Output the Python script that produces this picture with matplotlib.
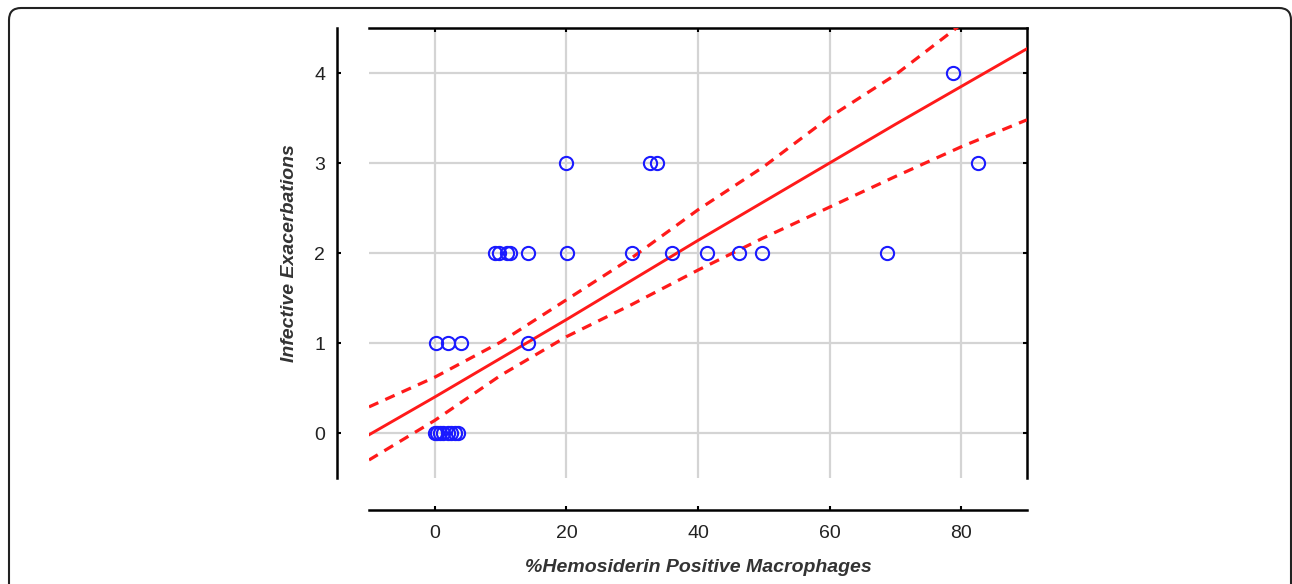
import matplotlib
matplotlib.use("Agg")
import matplotlib.pyplot as plt
from matplotlib.patches import FancyBboxPatch
from matplotlib.transforms import IdentityTransform
import numpy as np

plt.rcParams['font.family'] = ['Liberation Sans', 'DejaVu Sans']

# scatter values
pct_hemosiderin = [0.0, 0.4, 0.8, 1.3, 2.0, 2.5, 3.0, 3.5,
                   0.2, 2.0, 4.0, 14.2,
                   9.2, 9.7, 11.0, 11.5, 14.1, 20.1, 30.0, 36.0, 41.4, 46.3, 49.8, 68.7,
                   20.0, 32.7, 33.7, 82.6,
                   78.8]
exacerbations = [0, 0, 0, 0, 0, 0, 0, 0,
                 1, 1, 1, 1,
                 2, 2, 2, 2, 2, 2, 2, 2, 2, 2, 2, 2,
                 3, 3, 3, 3,
                 4]

# regression line and 95% confidence band
fit_x = [-10, 0, 10, 20, 30, 40, 50, 60, 70, 80, 90]
fit_y = [-0.02, 0.40, 0.83, 1.26, 1.70, 2.14, 2.57, 3.00, 3.43, 3.85, 4.27]
ci_upper = [0.29, 0.62, 1.01, 1.48, 1.95, 2.48, 2.96, 3.51, 3.98, 4.54, 5.08]
ci_lower = [-0.30, 0.14, 0.64, 1.07, 1.43, 1.81, 2.17, 2.51, 2.85, 3.18, 3.48]

x_ticks = [0, 20, 40, 60, 80]
y_ticks = [0, 1, 2, 3, 4]

W, H = 1292, 584
fig = plt.figure(figsize=(W / 100, H / 100), dpi=100)
ax = fig.add_axes([369 / W, (H - 478) / H, 658 / W, 450 / H])

# frame around the whole figure
frame = FancyBboxPatch((9, -30), 1282, H - 8 + 30,
                       boxstyle='round,pad=0,rounding_size=12',
                       transform=IdentityTransform(), fill=False,
                       edgecolor='#222222', linewidth=1.5)
fig.add_artist(frame)

ax.grid(True, color='#d4d4d4', linewidth=1.6)
ax.set_axisbelow(True)

red = '#ff1a1a'
ax.plot(fit_x, fit_y, color=red, linewidth=2.1, zorder=3)
ax.plot(fit_x, ci_upper, color=red, linewidth=2.3,
        linestyle=(0, (3.2, 2.4)), zorder=3)
ax.plot(fit_x, ci_lower, color=red, linewidth=2.3,
        linestyle=(0, (3.2, 2.4)), zorder=3)

ax.plot(pct_hemosiderin, exacerbations, linestyle='none', marker='o',
        markersize=9.5, markerfacecolor='none', markeredgecolor='#1a1aff',
        markeredgewidth=1.5, zorder=4)

ax.set_xlim(-10, 90)
ax.set_ylim(-0.5, 4.5)
ax.set_xticks(x_ticks)
ax.set_yticks(y_ticks)

for side in ['top', 'right', 'left', 'bottom']:
    ax.spines[side].set_linewidth(1.8)
    ax.spines[side].set_color('black')
ax.spines['left'].set_position(('outward', 23))
ax.spines['bottom'].set_position(('outward', 23))

ax.tick_params(axis='both', which='both', direction='in', length=3, width=1.5,
               top=True, right=True, labelsize=14, labelcolor='#222222')
ax.tick_params(axis='y', pad=8.5)
ax.tick_params(axis='x', pad=11)

ax.set_xlabel('%Hemosiderin Positive Macrophages', fontsize=14,
              fontweight='bold', fontstyle='italic', color='#333333', labelpad=12)
ax.set_ylabel('Infective Exacerbations', fontsize=14,
              fontweight='bold', fontstyle='italic', color='#333333', labelpad=12)

fig.savefig('out.png', dpi=100)
